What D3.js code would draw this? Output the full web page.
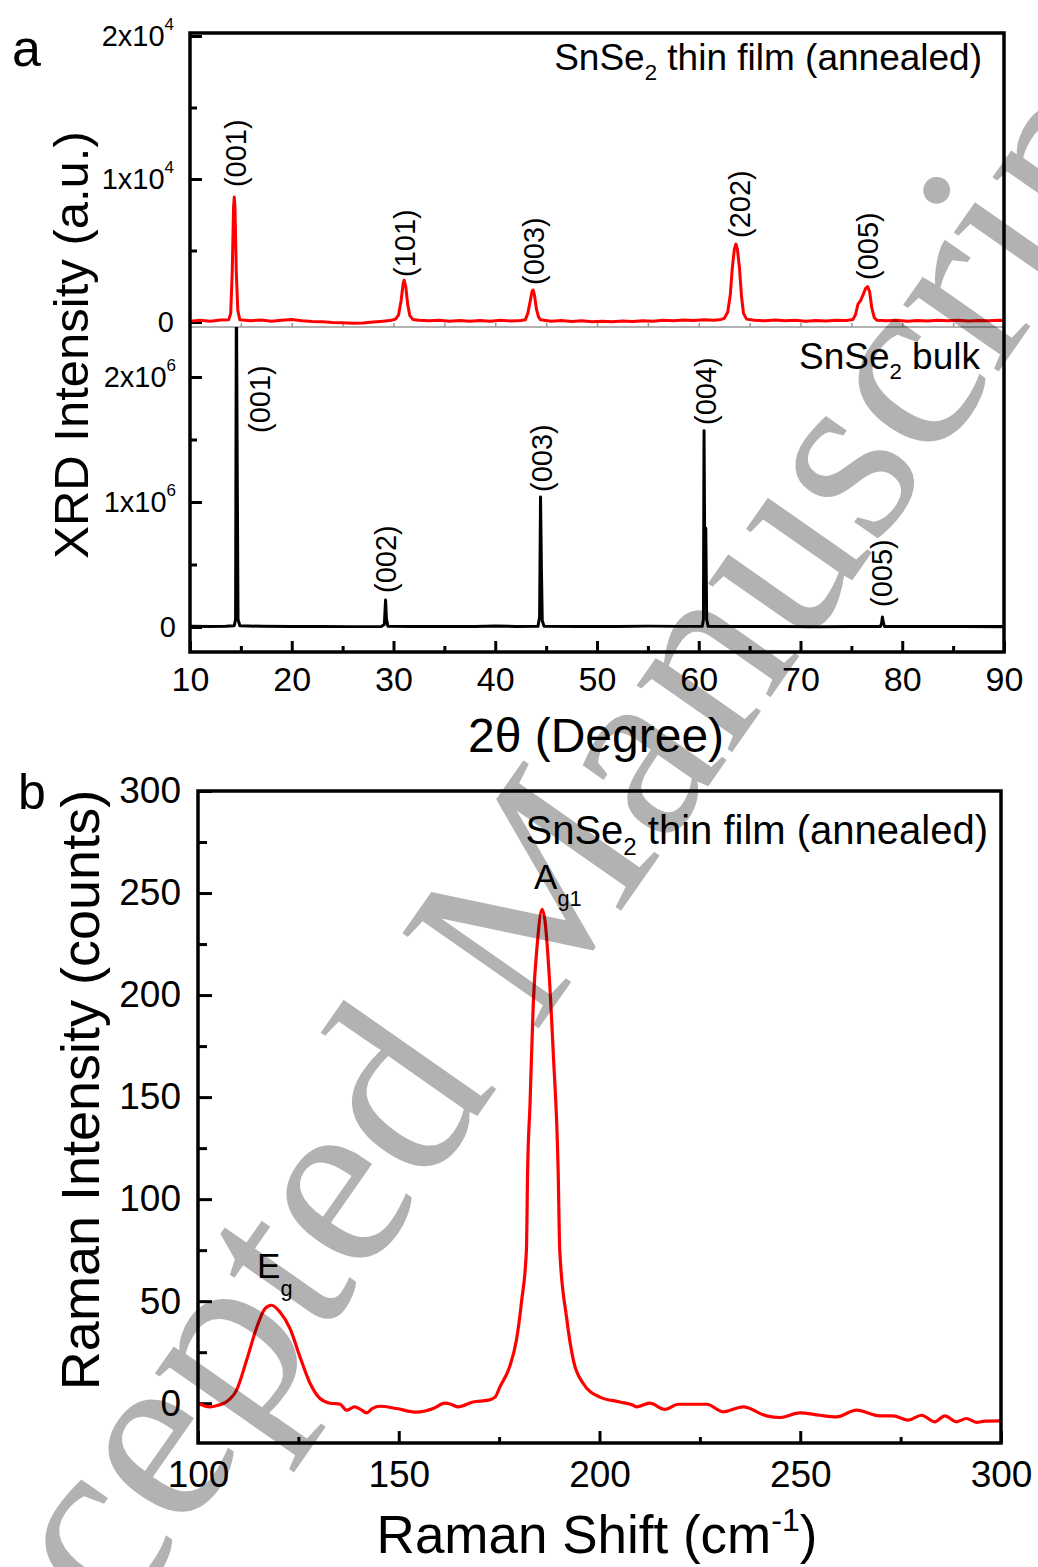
<!DOCTYPE html>
<html>
<head>
<meta charset="utf-8">
<script src="https://cdn.jsdelivr.net/npm/d3@7"></script>
<style>
  body { margin: 0; background: #fff; }
  text { font-family: "Liberation Sans", Arial, sans-serif; fill: #000; }
</style>
</head>
<body>
<svg id="fig" width="1038" height="1567"></svg>
<script>
// ---------- data ----------
// XRD, annealed thin film: [2theta, counts]
const filmXRD = [
  [10,50],[11,120],[12,60],[13,140],[13.8,150],[14.0,600],[14.15,3500],[14.28,8000],[14.35,8740],
  [14.42,8000],[14.55,3500],[14.7,800],[14.9,150],[16,90],[17,140],[18,60],[19,120],[20,180],
  [21,90],[22,40],[23,10],[24,-40],[25,-60],[26,-90],[27,-70],[28,0],[29,60],[29.8,120],
  [30.2,200],[30.5,500],[30.75,1500],[30.95,2700],[31.05,2930],[31.2,2500],[31.4,1200],[31.6,450],
  [31.9,180],[32.5,120],[33.5,80],[34.5,130],[35.5,60],[36.5,110],[37.5,50],[38.5,100],[39.5,60],
  [40.5,120],[41.5,70],[42.5,100],[42.95,150],[43.2,600],[43.45,1500],[43.62,2150],[43.72,2240],
  [43.85,1900],[44.05,900],[44.25,350],[44.45,150],[45.5,60],[46.5,110],[47.5,40],[48.5,90],
  [49.5,20],[50.5,60],[51.5,10],[52.5,70],[53.5,30],[54.5,90],[55.5,50],[56.5,120],[57.5,80],
  [58.5,140],[59.5,100],[60.5,160],[61.5,120],[62.2,180],[62.5,250],[62.85,700],[63.1,1900],
  [63.3,3800],[63.5,5100],[63.65,5450],[63.8,5100],[64.0,3800],[64.2,1800],[64.4,600],[64.7,200],
  [65.5,120],[66.5,80],[67.5,140],[68.5,90],[69.5,130],[70.5,60],[71.5,110],[72.5,70],[73.5,120],
  [74.5,100],[75.15,180],[75.4,500],[75.65,1250],[75.9,1500],[76.15,1900],[76.4,2350],[76.6,2470],
  [76.8,2100],[77.0,1000],[77.25,300],[77.5,130],[78.5,80],[79.5,120],[80.5,60],[81.5,110],
  [82.5,70],[83.5,130],[84.5,80],[85.5,120],[86.5,70],[87.5,110],[88.5,90],[89.5,120],[90,100]
];

// XRD, bulk: [2theta, counts in units of 1e6]
const bulkXRD = [
  [10,0.006],[12,0.005],[13.5,0.006],[14.35,0.01],[14.48,0.06],[14.56,2.75],[14.64,1.3],[14.72,0.06],
  [14.9,0.01],[17,0.006],[20,0.004],[23,0.005],[26,0.003],[28.8,0.004],[29.1,0.02],[29.22,0.216],
  [29.3,0.07],[29.45,0.006],[32,0.004],[35,0.005],[38,0.004],[40,0.008],[42,0.004],[44.2,0.006],
  [44.36,0.08],[44.45,1.04],[44.54,0.45],[44.62,0.05],[44.8,0.006],[48,0.004],[52,0.004],[55,0.007],
  [58,0.005],[60.35,0.006],[60.46,0.06],[60.52,1.57],[60.6,0.4],[60.69,0.79],[60.78,0.06],
  [60.92,0.006],[64,0.004],[68,0.005],[72,0.003],[75,0.004],[77.85,0.005],[77.97,0.03],[78.05,0.08],
  [78.13,0.04],[78.25,0.005],[82,0.004],[86,0.004],[90,0.003]
];

// Raman, annealed thin film: [shift cm-1, counts]
const raman = [
  [100,0],[103,-1.8],[105,-1],[107,0.6],[109.6,6.4],[112.1,21],[114.6,37],[116.7,46.4],[118.3,48],
  [120.4,44.7],[122.9,36.7],[125.4,22.7],[127.9,9.8],[130.4,2.3],[132.9,0],[135.4,-0.5],[137,-3.4],
  [139,-1.8],[140.5,-3],[142,-4.7],[143.5,-2.5],[145.3,-1.5],[149.4,-2.6],[154.4,-4.4],[158.6,-2.6],
  [161.5,0],[163,-0.5],[164.8,-1.8],[168.5,0.6],[172.3,1.5],[174,3],[175.2,8],[177.6,17.8],
  [179.3,30.8],[180.6,50],[181.8,75],[182.1,114],[182.7,146.8],[183.5,195.7],[184.5,225],
  [185.7,242],[186.5,235],[187.2,218],[188.5,171],[189.7,114],[190.1,75],[191.8,42],[193.5,21],
  [195.9,9.8],[200.1,3],[205.1,0.6],[208.4,-1],[209.2,-1.8],[212.5,0],[216.3,-3],[219.6,-0.5],
  [226.7,-0.5],[230.8,-4.2],[235.8,-1.8],[241.6,-6.2],[244.9,-7],[249.9,-4.7],[254.8,-5.9],
  [259,-6.7],[264,-3.4],[269.8,-6.2],[273.1,-6.2],[276.9,-8.3],[280.2,-5.9],[283.5,-9.1],[286,-6.2],
  [288.9,-9.1],[291.4,-7.5],[293.9,-9.4],[296,-8.8],[300,-8.7]
];

// peak labels: [text, 2theta, intensity at the foot of the label]
const filmPeaks = [["(001)",14.52,9437],["(101)",31.22,3146],["(003)",43.82,2586],["(202)",64.05,5872],["(005)",76.69,2936]];
const bulkPeaks = [["(001)",16.97,1.552],["(002)",29.35,0.272],["(003)",44.63,1.08],["(004)",60.79,1.616],["(005)",78.07,0.16]];

// ticks and tick labels
const xTicksA = [10,20,30,40,50,60,70,80,90];
const xMinorA = [15,25,35,45,55,65,75,85];
const filmTicks = [0,10000,20000];
const filmMinor = [5000,15000];
const filmTickLabels = [["0",""],["1x10","4"],["2x10","4"]];
const bulkTicks = [0,1e6,2e6];
const bulkMinor = [0.5e6,1.5e6];
const bulkTickLabels = [["0",""],["1x10","6"],["2x10","6"]];
const xTicksB = [100,150,200,250,300];
const xMinorB = [125,175,225,275];
const yTicksB = [0,50,100,150,200,250,300];
const yMinorB = [25,75,125,175,225,275];

// ---------- drawing ----------
const svg = d3.select("#fig");
svg.append("rect").attr("width",1038).attr("height",1567).attr("fill","#fff");

function styleAxis(g, color, width) {
  g.select(".domain").remove();
  g.selectAll(".tick line").attr("stroke", color).attr("stroke-width", width);
  return g;
}

function supLabels(g, labels, size, supSize) {
  g.selectAll(".tick text").each(function(d, i) {
    const t = d3.select(this).text(null)
      .attr("font-size", size).attr("font-family", null);
    t.append("tspan").text(labels[i][0]);
    if (labels[i][1]) {
      t.append("tspan").attr("dy", -0.55 * size).attr("font-size", supSize).text(labels[i][1]);
    }
  });
}

// ===== panel a =====
const xA = d3.scaleLinear().domain([10,90]).range([190,1004]);
const yFilm = d3.scaleLinear().domain([-350,20210]).range([327,33]);
const yBulk = d3.scaleLinear().domain([-0.2e6,2.4e6]).range([652,327]);

const defs = svg.append("defs");
defs.append("clipPath").attr("id","clipFilm").append("rect")
  .attr("x",190).attr("y",33).attr("width",814).attr("height",294);
defs.append("clipPath").attr("id","clipBulk").append("rect")
  .attr("x",190).attr("y",327).attr("width",814).attr("height",325);
defs.append("clipPath").attr("id","clipRaman").append("rect")
  .attr("x",198).attr("y",791).attr("width",803).attr("height",652);

// divider between the two XRD panels (thin grey axis)
styleAxis(svg.append("g").attr("transform","translate(0,327)")
  .call(d3.axisBottom(xA).tickValues(d3.range(15,90,5)).tickSizeInner(-4).tickSizeOuter(0).tickFormat("")), "#999", 1.5);
svg.append("line").attr("x1",190).attr("x2",1004).attr("y1",327).attr("y2",327)
  .attr("stroke","#999").attr("stroke-width",1.5);

// bottom axis
styleAxis(svg.append("g").attr("transform","translate(0,652)")
  .call(d3.axisBottom(xA).tickValues(xMinorA).tickSizeInner(-6).tickSizeOuter(0).tickFormat("")), "#000", 3);
const gxA = styleAxis(svg.append("g").attr("transform","translate(0,652)")
  .call(d3.axisBottom(xA).tickValues(xTicksA).tickSizeInner(-11).tickSizeOuter(0).tickPadding(15).tickFormat(d3.format("d"))), "#000", 3);
gxA.selectAll(".tick text").attr("font-size",34).attr("font-family",null).attr("fill","#000");

// left axis, film part
styleAxis(svg.append("g").attr("transform","translate(190,0)")
  .call(d3.axisLeft(yFilm).tickValues(filmMinor).tickSizeInner(-7).tickSizeOuter(0).tickFormat("")), "#000", 3);
const gyFilm = styleAxis(svg.append("g").attr("transform","translate(190,0)")
  .call(d3.axisLeft(yFilm).tickValues(filmTicks).tickSizeInner(-12).tickSizeOuter(0).tickPadding(16)), "#000", 3);
supLabels(gyFilm, filmTickLabels, 29, 17);

// left axis, bulk part
styleAxis(svg.append("g").attr("transform","translate(190,0)")
  .call(d3.axisLeft(yBulk).tickValues(bulkMinor).tickSizeInner(-7).tickSizeOuter(0).tickFormat("")), "#000", 3);
const gyBulk = styleAxis(svg.append("g").attr("transform","translate(190,0)")
  .call(d3.axisLeft(yBulk).tickValues(bulkTicks).tickSizeInner(-12).tickSizeOuter(0).tickPadding(14)), "#000", 3);
supLabels(gyBulk, bulkTickLabels, 29, 17);

// curves
svg.append("path").datum(filmXRD).attr("clip-path","url(#clipFilm)")
  .attr("d", d3.line().x(d => xA(d[0])).y(d => yFilm(d[1])))
  .attr("fill","none").attr("stroke","#ff0000").attr("stroke-width",3).attr("stroke-linejoin","round");
svg.append("path").datum(bulkXRD).attr("clip-path","url(#clipBulk)")
  .attr("d", d3.line().x(d => xA(d[0])).y(d => yBulk(d[1] * 1e6)))
  .attr("fill","none").attr("stroke","#000").attr("stroke-width",3).attr("stroke-linejoin","round");

// frame of panel a
svg.append("rect").attr("x",190).attr("y",33).attr("width",814).attr("height",619)
  .attr("fill","none").attr("stroke","#000").attr("stroke-width",3.5);

// peak labels
svg.selectAll(".filmPeak").data(filmPeaks).enter().append("text")
  .attr("transform", d => `translate(${xA(d[1])},${yFilm(d[2])}) rotate(-90)`)
  .attr("dy","0.33em").attr("font-size",29).text(d => d[0]);
svg.selectAll(".bulkPeak").data(bulkPeaks).enter().append("text")
  .attr("transform", d => `translate(${xA(d[1])},${yBulk(d[2] * 1e6)}) rotate(-90)`)
  .attr("dy","0.33em").attr("font-size",29).text(d => d[0]);

// annotations
function sampleLabel(x, y, size, rest) {
  const t = svg.append("text").attr("x",x).attr("y",y).attr("text-anchor","end").attr("font-size",size);
  t.append("tspan").text("SnSe");
  t.append("tspan").attr("dy", size * 0.28).attr("font-size", size * 0.6).text("2");
  t.append("tspan").attr("dy", -size * 0.28).text(rest);
}
sampleLabel(982, 70, 37, " thin film (annealed)");
sampleLabel(980, 369, 37, " bulk");

svg.append("text").attr("x",12).attr("y",66).attr("font-size",52).text("a");
svg.append("text").attr("transform","translate(88,345) rotate(-90)")
  .attr("text-anchor","middle").attr("font-size",49).text("XRD Intensity (a.u.)");
svg.append("text").attr("x",596).attr("y",752).attr("text-anchor","middle")
  .attr("font-size",48).text("2\u03b8 (Degree)");

// ===== panel b =====
const xB = d3.scaleLinear().domain([100,300]).range([198,1001]);
const yB = d3.scaleLinear().domain([-19.5,300]).range([1443,791]);

styleAxis(svg.append("g").attr("transform","translate(0,1443)")
  .call(d3.axisBottom(xB).tickValues(xMinorB).tickSizeInner(-6).tickSizeOuter(0).tickFormat("")), "#000", 3);
const gxB = styleAxis(svg.append("g").attr("transform","translate(0,1443)")
  .call(d3.axisBottom(xB).tickValues(xTicksB).tickSizeInner(-12).tickSizeOuter(0).tickPadding(18)), "#000", 3);
gxB.selectAll(".tick text").attr("font-size",37).attr("font-family",null).attr("fill","#000");

styleAxis(svg.append("g").attr("transform","translate(198,0)")
  .call(d3.axisLeft(yB).tickValues(yMinorB).tickSizeInner(-9).tickSizeOuter(0).tickFormat("")), "#000", 3);
const gyB = styleAxis(svg.append("g").attr("transform","translate(198,0)")
  .call(d3.axisLeft(yB).tickValues(yTicksB).tickSizeInner(-14).tickSizeOuter(0).tickPadding(17)), "#000", 3);
gyB.selectAll(".tick text").attr("font-size",37).attr("font-family",null).attr("fill","#000");

svg.append("path").datum(raman).attr("clip-path","url(#clipRaman)")
  .attr("d", d3.line().curve(d3.curveMonotoneX).x(d => xB(d[0])).y(d => yB(d[1])))
  .attr("fill","none").attr("stroke","#ff0000").attr("stroke-width",3.2).attr("stroke-linejoin","round");

svg.append("rect").attr("x",198).attr("y",791).attr("width",803).attr("height",652)
  .attr("fill","none").attr("stroke","#000").attr("stroke-width",3.5);

sampleLabel(988, 844, 40, " thin film (annealed)");

// mode labels
function modeLabel(x, y, main, sub, size) {
  const t = svg.append("text").attr("x",xB(x)).attr("y",yB(y)).attr("font-size",size);
  t.append("tspan").text(main);
  t.append("tspan").attr("dy", size * 0.5).attr("font-size", size * 0.62).text(sub);
}
modeLabel(183.7, 252, "A", "g1", 35);
modeLabel(114.7, 61.2, "E", "g", 35);

svg.append("text").attr("x",18).attr("y",809).attr("font-size",50).text("b");
svg.append("text").attr("transform","translate(99,1090) rotate(-90)")
  .attr("text-anchor","middle").attr("font-size",54).text("Raman Intensity (counts)");
const xt = svg.append("text").attr("x",597).attr("y",1553).attr("text-anchor","middle").attr("font-size",53);
xt.append("tspan").text("Raman Shift (cm");
xt.append("tspan").attr("dy",-22).attr("font-size",32).text("-1");
xt.append("tspan").attr("dy",22).text(")");

// watermark laid over the figure
svg.append("text").attr("transform","translate(-52,1872) rotate(-55)")
  .style("font-family","'Liberation Serif', 'Times New Roman', serif")
  .attr("font-size",254).style("fill","#000").attr("fill-opacity",0.3)
  .text("Accepted Manuscript");
</script>
</body>
</html>
